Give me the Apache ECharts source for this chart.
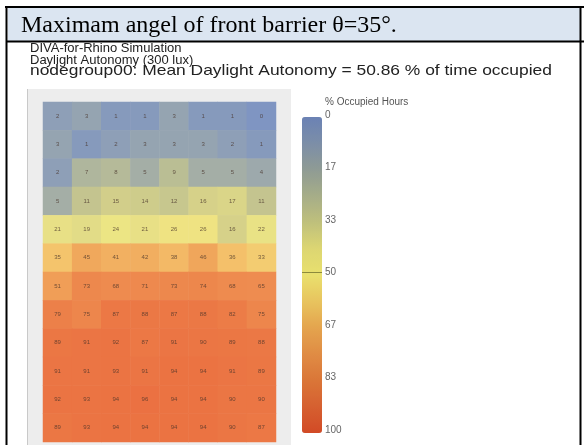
<!DOCTYPE html>
<html>
<head>
<meta charset="utf-8">
<script src="https://cdn.jsdelivr.net/npm/echarts@6/dist/echarts.min.js"></script>
<style>
html,body{margin:0;padding:0;background:#fff;}
#chart{width:584px;height:445px;}
</style>
</head>
<body>
<div id="chart"></div>
<script>
// ---- data ----
const columns = ['c1','c2','c3','c4','c5','c6','c7','c8'];
const rowNames = ['r1','r2','r3','r4','r5','r6','r7','r8','r9','r10','r11','r12'];
const row01 = [2, 3, 1, 1, 3, 1, 1, 0];
const row02 = [3, 1, 2, 3, 3, 3, 2, 1];
const row03 = [2, 7, 8, 5, 9, 5, 5, 4];
const row04 = [5, 11, 15, 14, 12, 16, 17, 11];
const row05 = [21, 19, 24, 21, 26, 26, 16, 22];
const row06 = [35, 45, 41, 42, 38, 46, 36, 33];
const row07 = [51, 73, 68, 71, 73, 74, 68, 65];
const row08 = [79, 75, 87, 88, 87, 88, 82, 75];
const row09 = [89, 91, 92, 87, 91, 90, 89, 88];
const row10 = [91, 91, 93, 91, 94, 94, 91, 89];
const row11 = [92, 93, 94, 96, 94, 94, 90, 90];
const row12 = [89, 93, 94, 94, 94, 94, 90, 87];
const gridRows = [row01,row02,row03,row04,row05,row06,row07,row08,row09,row10,row11,row12];
const legendTicks = ['0','17','33','50','67','83','100'];
const titleText = 'Maximam angel of front barrier θ=35°.';
const subLines = ['DIVA-for-Rhino Simulation','Daylight Autonomy (300 lux)','nodegroup00: Mean Daylight Autonomy = 50.86 % of time occupied'];
const legendTitle = '% Occupied Hours';

const heatData = [];
gridRows.forEach((row, r) => row.forEach((v, c) => heatData.push([c, r, v])));

const chart = echarts.init(document.getElementById('chart'), null, {renderer:'canvas'});
const sans = 'Liberation Sans, Arial, sans-serif';
chart.setOption({
  animation:false,
  backgroundColor:'#ffffff',
  graphic:[
    {type:'rect', z:-10, shape:{x:8,y:8,width:572,height:33}, style:{fill:'#dbe5f1'}},
    {type:'rect', z:-10, shape:{x:27,y:89,width:264,height:356}, style:{fill:'#ededed'}},
    {type:'line', z:-9, shape:{x1:27.5,y1:89,x2:27.5,y2:445}, style:{stroke:'#c9c9c9',lineWidth:1}},
    {type:'line', z:50, shape:{x1:5,y1:7,x2:584,y2:7}, style:{stroke:'#000',lineWidth:2}},
    {type:'line', z:50, shape:{x1:6.5,y1:6,x2:6.5,y2:445}, style:{stroke:'#000',lineWidth:2}},
    {type:'line', z:50, shape:{x1:6,y1:41.5,x2:584,y2:41.5}, style:{stroke:'#000',lineWidth:2}},
    {type:'line', z:50, shape:{x1:580.5,y1:6,x2:580.5,y2:445}, style:{stroke:'#000',lineWidth:2}},
    {type:'text', z:60, x:21, y:25.5, style:{text:titleText, font:'24px "Liberation Serif", "Times New Roman", serif', fill:'#000', verticalAlign:'middle'}},
    {type:'text', z:60, x:30, y:48.5, style:{text:subLines[0], font:'13px "Liberation Sans", Arial, sans-serif', fill:'#222', verticalAlign:'middle'}},
    {type:'text', z:60, x:30, y:60.5, style:{text:subLines[1], font:'13px "Liberation Sans", Arial, sans-serif', fill:'#222', verticalAlign:'middle'}},
    {type:'text', z:60, x:30, y:71, scaleX:1.2, style:{text:subLines[2], font:'14.5px "Liberation Sans", Arial, sans-serif', fill:'#222', verticalAlign:'middle'}},
    {type:'text', z:60, x:325, y:102, style:{text:legendTitle, font:'10px "Liberation Sans", Arial, sans-serif', fill:'#555', verticalAlign:'middle'}}
  ],
  grid:[
    {left:43, top:102, width:233, height:340},
    {left:302, top:115, width:20, height:315}
  ],
  xAxis:[
    {type:'category', gridIndex:0, data:columns, show:false},
    {type:'category', gridIndex:1, data:['a'], show:false}
  ],
  yAxis:[
    {type:'category', gridIndex:0, data:rowNames, inverse:true, show:false},
    {type:'category', gridIndex:1, data:legendTicks, inverse:true, boundaryGap:false, position:'right', z:10,
     axisLine:{show:false}, axisTick:{show:false},
     axisLabel:{margin:3, fontFamily:sans, fontSize:10, color:'#666'},
     splitLine:{show:true, interval:(i)=>i===3, lineStyle:{color:'#8c8a3c', width:1}}}
  ],
  visualMap:[
    {type:'continuous', min:0, max:100, seriesIndex:1, inverse:true, orient:'vertical',
     left:287, top:102, itemWidth:20, itemHeight:316, calculable:false, text:null,
     inRange:{color:['#6b82b4','#7c8ea8','#8f9b94','#a6ad88','#bfc07c','#dcd672','#e9e06e','#e8c45e','#e4a44e','#e08c44','#da7638','#d66030','#d24a26']}},
    {type:'continuous', min:0, max:100, seriesIndex:0, show:false,
     inRange:{color:['#7f95c2','#a4aea6','#c0c290','#d2ce8a','#e6df86','#eee684','#f2d878','#f4c46c','#f2b262','#f0a85c','#f0a058','#ef9854','#ee9250','#ee8c50','#ee8a4e','#ed864c','#ec7e48','#ec7a46','#eb7644','#eb7242','#ea6e40']}}
  ],
  series:[
    {type:'heatmap', xAxisIndex:0, yAxisIndex:0, data:heatData,
     label:{show:true, fontFamily:sans, fontSize:6, color:'rgba(70,50,40,0.75)', formatter:(p)=>p.value[2]},
     itemStyle:{borderWidth:0}},
    {type:'heatmap', xAxisIndex:1, yAxisIndex:1, data:[]}
  ]
});
</script>
</body>
</html>
